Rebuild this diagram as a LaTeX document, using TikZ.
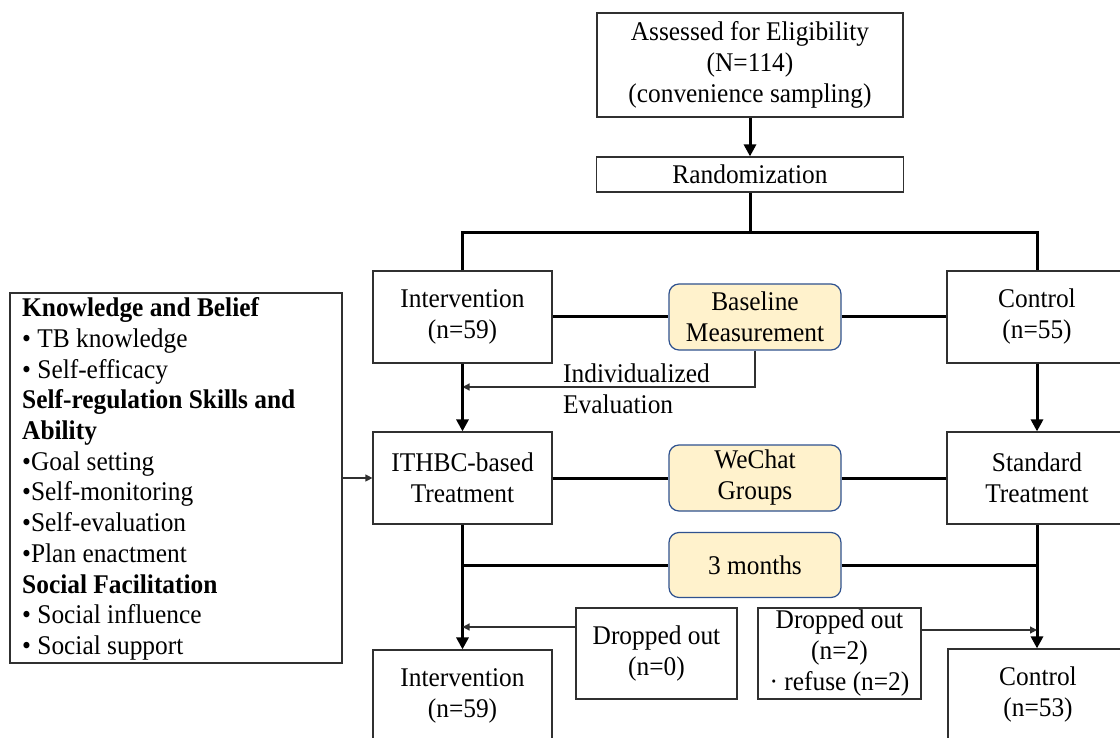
\documentclass[tikz,border=0pt]{standalone}
\usepackage{fontspec}
\setmainfont{Liberation Serif}[FakeStretch=0.94]
\usetikzlibrary{arrows.meta}
\definecolor{boxfill}{HTML}{FFF2CC}
\definecolor{boxedge}{HTML}{2F528F}
\definecolor{edgegray}{HTML}{303030}
\tikzset{
  txt/.style={font=\fontsize{27}{31}\selectfont, align=center, inner sep=0pt},
  plainbox/.style={txt, draw=edgegray, line width=1.2pt, fill=white},
  roundbox/.style={txt, draw=boxedge, line width=1.2pt, fill=boxfill, rounded corners=10pt},
  mainline/.style={line width=3pt, line join=miter},
  mainarrow/.style={mainline, -{Triangle[width=12pt,length=12pt]}},
  thinarrow/.style={line width=1.2pt, draw=edgegray, -{Triangle[width=7pt,length=7pt]}},
  thinline/.style={line width=1.2pt, draw=edgegray}
}
\begin{document}
\begin{tikzpicture}[x=1pt,y=-1pt]
\useasboundingbox (0,0) rectangle (1120,738);
\clip (0,0) rectangle (1120,738);
\fill[white] (0,0) rectangle (1120,738);

% nodes
\node[plainbox, minimum width=306pt, minimum height=104pt] (elig) at (750,65)
  {Assessed for Eligibility\\(N=114)\\(convenience sampling)};
\node[plainbox, minimum width=307pt, minimum height=35pt] (rand) at (750,174.5) {Randomization};
\node[plainbox, minimum width=179pt, minimum height=92pt] (int1) at (462.5,317) {Intervention\\(n=59)};
\node[roundbox, minimum width=172pt, minimum height=66pt] (base) at (755,317) {Baseline\\Measurement};
\node[plainbox, minimum width=180pt, minimum height=92pt] (ctrl1) at (1037,317) {Control\\(n=55)};
\node[plainbox, minimum width=179pt, minimum height=92pt] (ithbc) at (462.5,478) {ITHBC-based\\Treatment};
\node[roundbox, minimum width=172pt, minimum height=66pt] (wechat) at (755,478) {WeChat\\Groups};
\node[plainbox, minimum width=180pt, minimum height=92pt] (std) at (1037,478) {Standard\\Treatment};
\node[roundbox, minimum width=172pt, minimum height=65pt] (months) at (755,565) {3 months};
\node[plainbox, minimum width=161pt, minimum height=91pt] (drop0) at (656.5,653.5) {Dropped out\\(n=0)};
\node[plainbox, minimum width=163pt, minimum height=91pt] (drop2) at (839.5,653.5) {Dropped out\\(n=2)\\\textperiodcentered{} refuse (n=2)};
\node[plainbox, minimum width=179pt, minimum height=92pt] (int2) at (462.5,696) {Intervention\\(n=59)};
\node[plainbox, minimum width=180pt, minimum height=92pt] (ctrl2) at (1038,695) {Control\\(n=53)};

\node[draw=edgegray, line width=1.2pt, fill=white, minimum width=332pt, minimum height=370pt,
      inner sep=0pt] (comp) at (176,478) {};
\node[font=\fontsize{27}{30.7}\selectfont, align=left, anchor=west, inner sep=0pt] (comptxt) at (22,479)
  {\textbf{Knowledge and Belief}\\
   \textbullet{} TB knowledge\\
   \textbullet{} Self-efficacy\\
   \textbf{Self-regulation Skills and}\\
   \textbf{Ability}\\
   \textbullet Goal setting\\
   \textbullet Self-monitoring\\
   \textbullet Self-evaluation\\
   \textbullet Plan enactment\\
   \textbf{Social Facilitation}\\
   \textbullet{} Social influence\\
   \textbullet{} Social support};

\node[txt, align=left, anchor=west] (indiv) at (563,388.5) {Individualized\\Evaluation};

% coordinates
\coordinate (split) at (750,233);
\coordinate (ie) at (462.5,387);
\coordinate (d0t) at (462.5,627);
\coordinate (d2t) at (1037,630);

% connectors
\draw[mainarrow] (elig.south) -- (rand.north);
\draw[mainline] (rand.south) -- (split);
\draw[mainline] (int1.north) |- (split) -| (ctrl1.north);
\draw[mainline] (int1.east) -- (base.west);
\draw[mainline] (base.east) -- (ctrl1.west);
\draw[thinarrow] (base.south) |- (ie);
\draw[mainarrow] (int1.south) -- (ithbc.north);
\draw[mainarrow] (ctrl1.south) -- (std.north);
\draw[mainline] (ithbc.east) -- (wechat.west);
\draw[mainline] (wechat.east) -- (std.west);
\draw[thinarrow] (comp.east) -- (ithbc.west);
\draw[mainarrow] (ithbc.south) -- (int2.north);
\draw[mainarrow] (std.south) -- (ctrl2.north -| std.south);
\draw[mainline] (ithbc.south |- months.west) -- (months.west);
\draw[mainline] (months.east) -- (std.south |- months.east);
\draw[thinarrow] (d0t -| drop0.west) -- (d0t);
\draw[thinarrow] (d2t -| drop2.east) -- (d2t);
\end{tikzpicture}
\end{document}
